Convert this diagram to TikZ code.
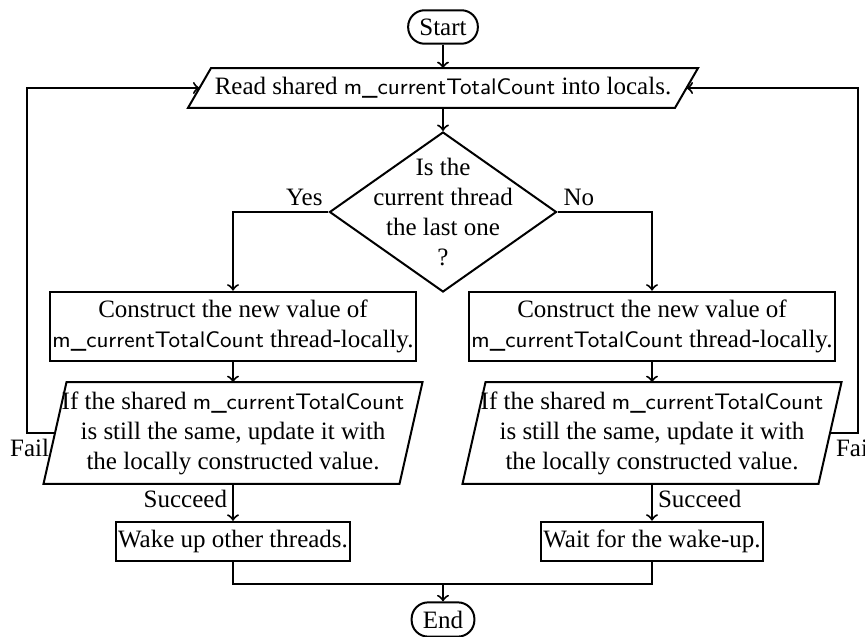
\documentclass[tikz,border=0pt]{standalone}
\usepackage{fontspec}
\setmainfont{Liberation Serif}
\usetikzlibrary{shapes.geometric}
\newcommand\cntname{{\small\sffamily m\_currentTotalCount}}
\newcommand\ioframe[1]{\draw ([xshift=9.2pt]#1.north west) -- (#1.north east) -- ([xshift=-9.2pt]#1.south east) -- (#1.south west) -- cycle;}
\begin{document}
\begin{tikzpicture}[x=0.4pt,y=-0.4pt,>=to,thick]
	\tikzset{
		terminal/.style={draw,rectangle,rounded corners=6.6pt,minimum height=13.2pt,inner xsep=4.5pt},
		procbox/.style={draw,rectangle,align=center,inner xsep=1pt,minimum height=13.2pt},
		iobox/.style={rectangle,align=center,minimum width=150.8pt,minimum height=37.6pt},
		decision/.style={draw,diamond,align=center,aspect=1.42,inner sep=-10pt,minimum width=90.8pt,minimum height=64pt},
		lbl/.style={inner sep=2pt}
	}
	\useasboundingbox (0,0) rectangle (865,637);
	\node[terminal] (start) at (443,27) {Start};
	\node[iobox,minimum width=203.2pt,minimum height=12.8pt] (read) at (443,88) {Read shared \cntname{} into locals.};
	\ioframe{read}
	\node[decision] (dia) at (443,212) {Is the\\current thread\\the last one\\?};
	\node[procbox] (doneL) at (233,541.5) {Wake up other threads.};
	\node[procbox] (doneR) at (652,541.5) {Wait for the wake-up.};
	\node[terminal] (end) at (443,619.5) {End};
	\coordinate (join) at (443,584);
	\draw[->] (start) -- (read);
	\draw[->] (read) -- (dia);
	\foreach \s/\x/\anc/\lo/\hi/\sh/\off/\ans in {L/233/west/north east/south east/4.6pt/-28/Yes,R/652/east/north west/south west/-4.6pt/28/No}{
		\node[procbox,minimum width=142.4pt,minimum height=25.2pt] (cons\s) at (\x,326.5) {Construct the new value of\\\cntname{} thread-locally.};
		\node[iobox] (cas\s) at (\x,433) {If the shared \cntname\\is still the same, update it with\\the locally constructed value.};
		\ioframe{cas\s}
		\draw[->] (dia) -| node[lbl,pos=0,anchor=\hi] (ans\s) {\ans} (cons\s);
		\draw[->] (cons\s) -- (cas\s);
		\draw[->] (cas\s) -- node[lbl,pos=0,anchor=\lo] (ok\s) {Succeed} (done\s);
		\draw[->] ([xshift=\sh]cas\s.\anc) node[lbl,anchor=\lo] (fail\s) {Fail} -- ++(\off,0) |- ([xshift=\sh]read.\anc);
		\draw (done\s) |- (join);
	}
	\draw[->] (join) -- (end);
\end{tikzpicture}
\end{document}
